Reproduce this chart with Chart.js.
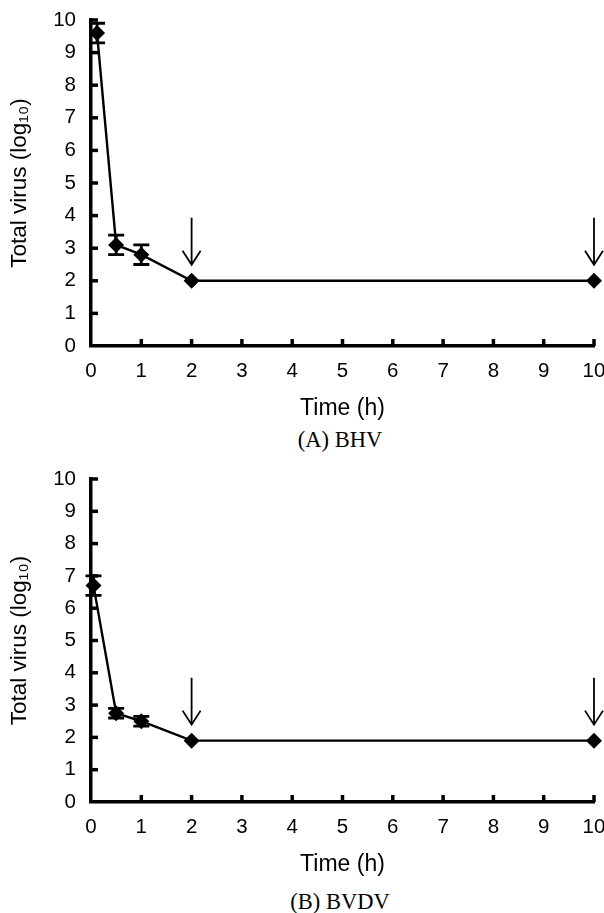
<!DOCTYPE html>
<html>
<head>
<meta charset="utf-8">
<script src="https://cdn.jsdelivr.net/npm/chart.js@4"></script>
<style>
  body { margin: 0; background: #fff; width: 604px; height: 913px; position: relative; overflow: hidden; }
  .panel { position: absolute; left: 0; width: 604px; }
  .caption { position: absolute; left: 0; width: 604px; padding-left: 76px; box-sizing: border-box; text-align: center;
    font-family: "Liberation Serif", "Times New Roman", serif; font-size: 22.5px; color: #000; line-height: 1; }
</style>
</head>
<body>
<div class="panel" style="top:0; height:425px"><canvas id="chartA"></canvas></div>
<div class="caption" style="top:429px">(A) BHV</div>
<div class="panel" style="top:459px; height:422px"><canvas id="chartB"></canvas></div>
<div class="caption" style="top:891px">(B) BVDV</div>
<script>
// time points (h) and log10 titres
const timesA = [0.12, 0.5, 1, 2, 10];
const virusA = [9.6, 3.1, 2.8, 2.0, 2.0];
const errA = [0.3, 0.3, 0.3, 0, 0];

const timesB = [0.05, 0.5, 1, 2, 10];
const virusB = [6.7, 2.75, 2.5, 1.9, 1.9];
const errB = [0.3, 0.15, 0.15, 0, 0];

// arrows mark these time points
const arrowTimes = [2, 10];

const xTicks = [0, 1, 2, 3, 4, 5, 6, 7, 8, 9, 10];
const yTicks = [0, 1, 2, 3, 4, 5, 6, 7, 8, 9, 10];

const sans = "'Liberation Sans', Arial, sans-serif";

// error bars with caps
const errorBars = {
  id: "errorBars",
  afterDatasetsDraw(chart) {
    const ctx = chart.ctx;
    const xs = chart.scales.x, ys = chart.scales.y;
    chart.data.datasets.forEach(ds => {
      ds.data.forEach((p, i) => {
        const e = ds.errors[i];
        if (!e) return;
        const px = xs.getPixelForValue(p.x);
        const top = ys.getPixelForValue(p.y + e);
        const bot = ys.getPixelForValue(p.y - e);
        ctx.save();
        ctx.strokeStyle = "#000";
        ctx.lineWidth = 2.8;
        ctx.beginPath();
        ctx.moveTo(px, top); ctx.lineTo(px, bot);
        ctx.moveTo(px - 8, top); ctx.lineTo(px + 8, top);
        ctx.moveTo(px - 8, bot); ctx.lineTo(px + 8, bot);
        ctx.stroke();
        ctx.restore();
      });
    });
  }
};

// inward tick marks
const innerTicks = {
  id: "innerTicks",
  afterDraw(chart) {
    const ctx = chart.ctx;
    const xs = chart.scales.x, ys = chart.scales.y;
    const x0 = xs.getPixelForValue(0), y0 = ys.getPixelForValue(0);
    ctx.save();
    ctx.strokeStyle = "#000";
    ctx.lineWidth = 3.5;
    xTicks.forEach(t => {
      if (t === 0) return;
      const px = xs.getPixelForValue(t);
      ctx.beginPath(); ctx.moveTo(px, y0); ctx.lineTo(px, y0 - 7); ctx.stroke();
    });
    yTicks.forEach(t => {
      if (t === 0) return;
      const py = ys.getPixelForValue(t);
      ctx.beginPath(); ctx.moveTo(x0, py); ctx.lineTo(x0 + 7, py); ctx.stroke();
    });
    ctx.restore();
  }
};

// down arrows above the marked points
const arrows = {
  id: "arrows",
  afterDatasetsDraw(chart) {
    const ctx = chart.ctx;
    const xs = chart.scales.x, ys = chart.scales.y;
    const ds = chart.data.datasets[0];
    ctx.save();
    ctx.strokeStyle = "#000";
    ctx.lineWidth = 1.8;
    arrowTimes.forEach(t => {
      const p = ds.data.find(d => d.x === t);
      const px = xs.getPixelForValue(t);
      const py = ys.getPixelForValue(p.y);
      const tip = py - 16, tail = py - 63;
      ctx.beginPath();
      ctx.moveTo(px, tail); ctx.lineTo(px, tip);
      ctx.moveTo(px - 9, tip - 14); ctx.lineTo(px, tip); ctx.lineTo(px + 9, tip - 14);
      ctx.stroke();
    });
    ctx.restore();
  }
};

function makeChart(id, times, values, errors) {
  const data = times.map((t, i) => ({ x: t, y: values[i] }));
  return new Chart(document.getElementById(id), {
    type: "line",
    data: {
      datasets: [{
        data: data,
        errors: errors,
        borderColor: "#000",
        backgroundColor: "#000",
        borderWidth: 2.4,
        pointStyle: "rectRot",
        pointRadius: 8,
        pointBorderWidth: 0,
        tension: 0,
        clip: false
      }]
    },
    options: {
      responsive: true,
      maintainAspectRatio: false,
      animation: false,
      layout: { padding: { top: 20, right: 10, left: 0, bottom: 0 } },
      plugins: { legend: { display: false }, tooltip: { enabled: false } },
      scales: {
        x: {
          type: "linear",
          min: 0, max: 10,
          afterBuildTicks: s => { s.ticks = xTicks.map(v => ({ value: v })); },
          afterFit: s => { s.height = 79; s.paddingLeft = 0; s.paddingRight = 0; },
          grid: { display: false, drawTicks: false },
          border: { color: "#000", width: 3.5 },
          ticks: { color: "#000", padding: 13, maxRotation: 0, font: { family: sans, size: 20.5 } },
          title: { display: true, text: "Time (h)", color: "#000", padding: 3, font: { family: sans, size: 23 } }
        },
        y: {
          min: 0, max: 10,
          afterBuildTicks: s => { s.ticks = yTicks.map(v => ({ value: v })); },
          afterFit: s => { s.width = 91; s.paddingTop = 0; s.paddingBottom = 0; },
          grid: { display: false, drawTicks: false },
          border: { color: "#000", width: 3.5 },
          ticks: { color: "#000", padding: 15, font: { family: sans, size: 20.5 } },
          title: { display: true, text: "Total virus (log\u2081\u2080)", color: "#000", padding: 6, font: { family: sans, size: 22.5 } }
        }
      }
    },
    plugins: [errorBars, innerTicks, arrows]
  });
}

makeChart("chartA", timesA, virusA, errA);
makeChart("chartB", timesB, virusB, errB);
</script>
</body>
</html>
